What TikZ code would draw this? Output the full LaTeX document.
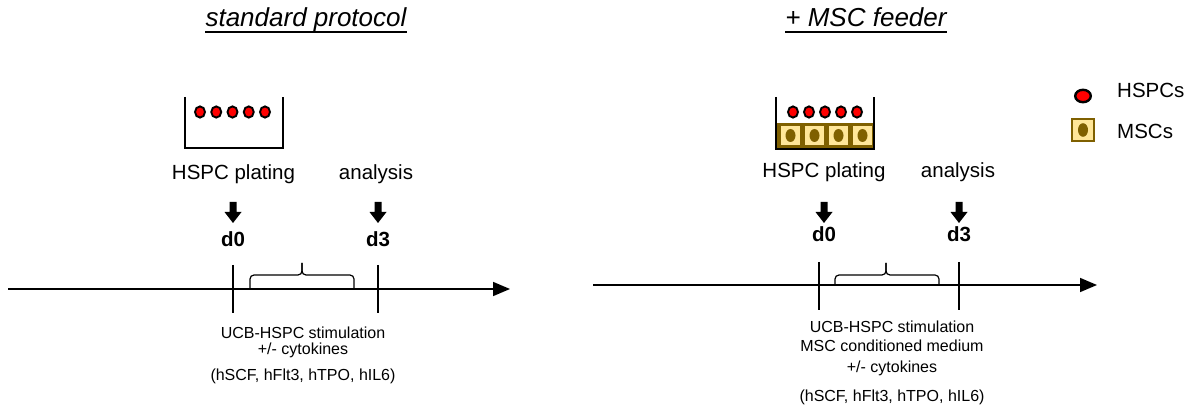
\documentclass[tikz,border=0pt]{standalone}
\usepackage{fontspec}
\setmainfont{Liberation Sans}
\usetikzlibrary{arrows.meta}
\definecolor{mscbrown}{RGB}{127,96,0}
\definecolor{msclight}{RGB}{255,230,153}
\definecolor{hspcred}{RGB}{255,0,0}
\begin{document}
\begin{tikzpicture}[x=1pt,y=-1pt,
  lbl/.style={font=\fontsize{20.5}{24}\selectfont, anchor=base, inner sep=0},
  day/.style={font=\bfseries\fontsize{20.5}{24}\selectfont, anchor=base, inner sep=0},
  note/.style={font=\fontsize{16}{19}\selectfont, anchor=base, inner sep=0},
  ttl/.style={font=\itshape\fontsize{26}{30}\selectfont, anchor=base, inner sep=0},
  hspc/.style={draw=black, fill=hspcred, line width=1.9},
  wall/.style={line width=2, line join=miter},
  timeline/.style={line width=1.6, -{Triangle[length=17pt,width=14pt]}},
  tick/.style={line width=1.3},
  brace/.style={line width=1.2, rounded corners=4},
  pics/blockarrow/.style={code={
    \fill (-3.5,0) -- (3.5,0) -- (3.5,10) -- (8.5,10) -- (0,21)
          -- (-8.5,10) -- (-3.5,10) -- cycle;}}
]
\useasboundingbox (0,0) rectangle (1195,414);

% ---------------- titles ----------------
\node[ttl] (ttlL) at (306,27) {standard protocol};
\draw[line width=1.5] ([yshift=-5pt]ttlL.base west) -- ([yshift=-5pt]ttlL.base east);
\node[ttl] (ttlR) at (866,27) {+ MSC feeder};
\draw[line width=1.5] ([yshift=-5pt]ttlR.base west) -- ([yshift=-5pt]ttlR.base east);

% ---------------- left culture well ----------------
\foreach \i in {0,...,4}
  \draw[hspc] (200+16.25*\i,112) ellipse [x radius=5, y radius=5.6];
\draw[wall] (185,97) -- (185,148) -- (283,148) -- (283,97);

% ---------------- right culture well with MSC layer ----------------
\fill[mscbrown] (776,123) rectangle (874,148);
\foreach \i in {0,...,3} {
  \fill[msclight] (781+24*\i,126) rectangle (800+24*\i,145);
  \fill[mscbrown] (790.5+24*\i,135.5) ellipse [x radius=5, y radius=6.5];
}
\foreach \i in {0,...,4}
  \draw[hspc] (793+16*\i,112) ellipse [x radius=5, y radius=5.6];
\draw[wall] (776,97) -- (776,149) -- (874,149) -- (874,97);

% ---------------- legend ----------------
\draw[hspc, line width=2.4] (1083,96) ellipse [x radius=7.8, y radius=6.2];
\node[lbl, anchor=base west] (legH) at (1117,98) {HSPCs};
\filldraw[fill=msclight, draw=mscbrown, line width=2.5] (1072,119) rectangle (1094,141);
\fill[mscbrown] (1083,130) ellipse [x radius=5, y radius=6.8];
\node[lbl, anchor=base west] (legM) at (1117,139) {MSCs};

% ---------------- left timeline ----------------
\node[lbl] (platL) at (233.5,180) {HSPC plating};
\node[lbl] (anaL) at (376,180) {analysis};
\pic at (233,202) {blockarrow};
\pic at (378,202) {blockarrow};
\node[day] (d0L) at (233,247) {d0};
\node[day] (d3L) at (378,247) {d3};

\coordinate (tlLs) at (8,289);
\coordinate (tlLe) at (510,289);
\draw[timeline] (tlLs) -- (tlLe);
\coordinate (t0Lt) at (233,265); \coordinate (t0Lb) at (233,313);
\coordinate (t3Lt) at (378,265); \coordinate (t3Lb) at (378,313);
\draw[tick] (t0Lt) -- (t0Lb);
\draw[tick] (t3Lt) -- (t3Lb);
\draw[brace] (250,288) -- (250,275) -- (302,275) -- (302,263);
\draw[brace] (302,263) -- (302,275) -- (354,275) -- (354,288);

\node[note] (stimL) at (303,338) {UCB-HSPC stimulation};
\node[note] (cytL) at (303,354) {+/- cytokines};
\node[note] (listL) at (303,380) {(hSCF, hFlt3, hTPO, hIL6)};

% ---------------- right timeline ----------------
\node[lbl] (platR) at (824,178) {HSPC plating};
\node[lbl] (anaR) at (958,178) {analysis};
\pic at (824,202) {blockarrow};
\pic at (959,202) {blockarrow};
\node[day] (d0R) at (824,242) {d0};
\node[day] (d3R) at (959,242) {d3};

\coordinate (tlRs) at (593,285);
\coordinate (tlRe) at (1097,285);
\draw[timeline] (tlRs) -- (tlRe);
\coordinate (t0Rt) at (819,262); \coordinate (t0Rb) at (819,310);
\coordinate (t3Rt) at (959,262); \coordinate (t3Rb) at (959,310);
\draw[tick] (t0Rt) -- (t0Rb);
\draw[tick] (t3Rt) -- (t3Rb);
\draw[brace] (835,286) -- (835,275) -- (886,275) -- (886,263);
\draw[brace] (886,263) -- (886,275) -- (939,275) -- (939,286);

\node[note] (stimR) at (892,333) {UCB-HSPC stimulation};
\node[note] (mediumR) at (892,352) {MSC conditioned medium};
\node[note] (cytR) at (892,372) {+/- cytokines};
\node[note] (listR) at (892,401) {(hSCF, hFlt3, hTPO, hIL6)};
\end{tikzpicture}
\end{document}
